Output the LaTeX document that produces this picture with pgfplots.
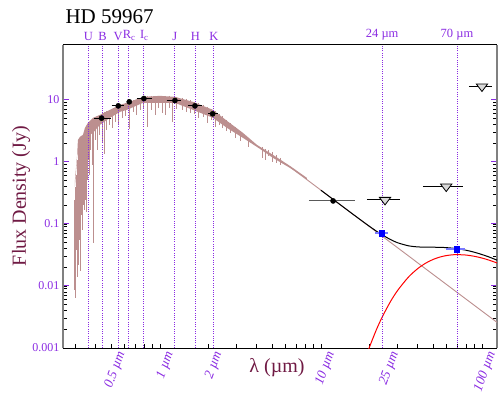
\documentclass[border=0pt]{standalone}
\usepackage{fontspec}
\setmainfont{Liberation Serif}
\usepackage{pgfplots}
\pgfplotsset{compat=1.18}
\definecolor{vio}{RGB}{138,43,226}
\definecolor{lbl}{RGB}{112,26,68}
\definecolor{rb}{RGB}{188,143,143}
\definecolor{lblue}{RGB}{120,120,255}
\begin{document}
\begin{tikzpicture}
\useasboundingbox (-63pt,-44pt) rectangle (437pt,348pt);
\begin{axis}[
  scale only axis, width=434pt, height=303.5pt,
  at={(0,0)}, anchor=south west,
  xmode=log, ymode=log,
  xmin=0.25, xmax=124, ymin=0.001, ymax=78,
  separate axis lines,
  x axis line style={black, line width=0.9pt},
  y axis line style={gray, line width=2pt},
  xtick pos=left,
  xtick={0.5,1,2,10,25,100},
  xticklabels={0.5 µm,1 µm,2 µm,10 µm,25 µm,100 µm},
  minor xtick={0.3,0.4,0.5,0.6,0.7,0.8,0.9,1,2,3,4,5,6,7,8,9,10,20,30,40,50,60,70,80,90,100},
  ytick={0.001,0.01,0.1,1,10},
  yticklabels={0.001,0.01,0.1,1,10},
  major tick length=6pt, minor tick length=4pt,
  every major x tick/.style={draw=none},
  every minor x tick/.style={black, line width=0.8pt},
  every major y tick/.style={vio, line width=1pt},
  every minor y tick/.style={black, line width=0.8pt},
  yticklabel style={text=vio, font=\fontsize{12}{12}\selectfont},
  xticklabel style={text=vio, font=\fontsize{13.5}{13.5}\selectfont\itshape, xshift=11.5pt, yshift=-1pt, rotate=70, anchor=east},
  clip mode=individual,
  unbounded coords=jump,
]
% model photosphere band
\addplot[fill=rb, draw=none] coordinates {
(0.2965,0.3953) (0.3051,1.077) (0.3095,2.264) (0.3185,2.530) (0.3325,2.726) (0.3421,3.534) (0.3571,4.256) (0.3836,5.124) (0.4238,5.729) (0.489,6.898) (0.5644,8.305) (0.6237,8.945) (0.6995,10.0) (0.7842,11.18) (1.0,11.60) (1.239,11.18) (1.603,9.284) (2.134,6.898) (2.607,4.584) (3.278,2.936) (4.005,1.880) (5.035,1.297) (6.42,0.862) (8.185,0.552)
(8.185,0.522) (6.42,0.800) (5.035,1.160) (4.18,1.621) (3.278,2.438) (2.607,3.534) (2.134,5.124) (1.603,6.898) (1.239,8.945) (1.0,8.945) (0.7842,8.945) (0.6237,6.898) (0.5644,6.404) (0.489,5.124) (0.4238,3.951) (0.3836,2.936) (0.3571,2.6) (0.3421,2.2) (0.3185,2.0) (0.3051,1.2) (0.2965,0.5)
} -- cycle;
% absorption lines
\addplot[rb, line width=0.75pt] coordinates {
(0.2922,0.2438)(0.2922,0.00862)(0.2922,nan)
(0.2965,0.3953)(0.2965,0.0064)(0.2965,nan)
(0.3008,0.617)(0.3008,0.0381)(0.3008,nan)
(0.3051,1.077)(0.3051,0.01397)(0.3051,nan)
(0.3095,2.264)(0.3095,0.0218)(0.3095,nan)
(0.314,2.438)(0.314,0.0552)(0.314,nan)
(0.3185,2.53)(0.3185,0.01745)(0.3185,nan)
(0.3231,2.3)(0.3231,0.1397)(0.3231,nan)
(0.3277,2.626)(0.3277,0.08)(0.3277,nan)
(0.3325,2.5)(0.3325,0.2025)(0.3325,nan)
(0.3373,3.047)(0.3373,0.1682)(0.3373,nan)
(0.3421,3.534)(0.3421,0.2438)(0.3421,nan)
(0.347,3.807)(0.347,0.1562)(0.347,nan)
(0.352,3.6)(0.352,0.5125)(0.352,nan)
(0.3571,4.256)(0.3571,1.077)(0.3571,nan)
(0.3622,4.416)(0.3622,0.617)(0.3622,nan)
(0.3675,4.3)(0.3675,1.562)(0.3675,nan)
(0.3781,4.937)(0.3781,0.8946)(0.3781,nan)
(0.3836,5.124)(0.3836,0.0494)(0.3836,nan)
(0.3947,5.318)(0.3947,2.264)(0.3947,nan)
(0.4061,5.52)(0.4061,1.562)(0.4061,nan)
(0.4179,5.729)(0.4179,2.726)(0.4179,nan)
(0.4363,6.17)(0.4363,2.025)(0.4363,nan)
(0.449,6.404)(0.449,1.346)(0.449,nan)
(0.462,6.646)(0.462,3.281)(0.462,nan)
(0.4822,6.898)(0.4822,3.951)(0.4822,nan)
(0.5033,7.159)(0.5033,3.534)(0.5033,nan)
(0.5254,7.711)(0.5254,4.416)(0.5254,nan)
(0.5484,8.002)(0.5484,3.951)(0.5484,nan)
(0.5807,8.619)(0.5807,5.124)(0.5807,nan)
(0.6062,8.945)(0.6062,5.52)(0.6062,nan)
(0.6418,9.284)(0.6418,3.405)(0.6418,nan)
(0.6796,10.0)(0.6796,6.404)(0.6796,nan)
(0.7095,10.0)(0.7095,5.729)(0.7095,nan)
(0.7512,10.77)(0.7512,6.898)(0.7512,nan)
(0.7842,11.18)(0.7842,7.43)(0.7842,nan)
(0.8303,11.6)(0.8303,3.668)(0.8303,nan)
(0.8791,11.6)(0.8791,6.898)(0.8791,nan)
(0.9309,11.6)(0.9309,5.729)(0.9309,nan)
(0.9718,11.6)(0.9718,7.43)(0.9718,nan)
(1.029,11.6)(1.029,6.17)(1.029,nan)
(1.074,11.6)(1.074,5.729)(1.074,nan)
(1.137,11.6)(1.137,7.43)(1.137,nan)
(1.187,11.18)(1.187,4.416)(1.187,nan)
(1.257,11.18)(1.257,7.159)(1.257,nan)
(1.37,10.77)(1.37,6.898)(1.37,nan)
(1.451,10.38)(1.451,6.404)(1.451,nan)
(1.536,10.0)(1.536,6.17)(1.536,nan)
(1.626,9.284)(1.626,5.945)(1.626,nan)
(1.722,8.945)(1.722,5.124)(1.722,nan)
(1.849,8.305)(1.849,5.318)(1.849,nan)
(1.959,7.711)(1.959,4.256)(1.959,nan)
(2.074,7.159)(2.074,4.757)(2.074,nan)
(2.196,6.646)(2.196,3.668)(2.196,nan)
(2.325,5.945)(2.325,3.951)(2.325,nan)
(2.427,5.52)(2.427,3.534)(2.427,nan)
(2.57,4.757)(2.57,3.162)(2.57,nan)
(2.721,4.256)(2.721,2.936)(2.721,nan)
(2.924,3.668)(2.924,2.438)(2.924,nan)
(3.14,3.162)(3.14,2.182)(3.14,nan)
(3.521,2.438)(3.521,1.746)(3.521,nan)
(4.3,1.746)(4.3,1.16)(4.3,nan)
(4.489,1.621)(4.489,1.077)(4.489,nan)
(4.687,1.562)(4.687,1.25)(4.687,nan)
(4.963,1.45)(4.963,1.0)(4.963,nan)
(5.255,1.297)(5.255,0.9636)(5.255,nan)
(5.564,1.16)(5.564,0.8946)
};
% photosphere Rayleigh-Jeans tail
\addplot[rb, line width=0.9pt] coordinates {
(6.42,0.831)(8,0.540)(10,0.3495)(12,0.2449)(14,0.1815)(16,0.1399)(18,0.1112)(20,0.0906)(22,0.0752)(24,0.0635)(27,0.0505)(30,0.0411)(35,0.03045)(40,0.02347)(45,0.01866)(50,0.0152)(55,0.01263)(60,0.01065)(65,0.00912)(70,0.00789)(80,0.00608)(90,0.00484)(100,0.00394)(110,0.00327)(124,0.00259)
};
% dust blackbody
\addplot[red, line width=1pt, smooth] coordinates {
(18,0.000465)(19,0.00071)(20,0.00103)(22,0.00192)(24,0.00315)(27,0.00558)(30,0.00853)(35,0.01395)(40,0.01913)(45,0.02354)(50,0.02693)(55,0.02933)(60,0.03088)(65,0.03172)(70,0.0320)(80,0.03148)(90,0.03003)(100,0.02819)(110,0.02621)(124,0.0235)
};
% total model
\addplot[black, line width=1pt, smooth] coordinates {
(10,0.3495)(12,0.2449)(14,0.1815)(16,0.1400)(18,0.1117)(20,0.0916)(22,0.0771)(24,0.0667)(27,0.0561)(30,0.0496)(35,0.0444)(40,0.0426)(45,0.0422)(50,0.0421)(55,0.0420)(60,0.0415)(65,0.0408)(70,0.0399)(80,0.0376)(90,0.0349)(100,0.0321)(110,0.0295)(124,0.0261)
};
% band lines
\addplot[vio, line width=0.7pt, dash pattern=on 1pt off 1.3pt] coordinates {
(0.36,0.001)(0.36,78)(0.36,nan)
(0.44,0.001)(0.44,78)(0.44,nan)
(0.55,0.001)(0.55,78)(0.55,nan)
(0.64,0.001)(0.64,78)(0.64,nan)
(0.79,0.001)(0.79,78)(0.79,nan)
(1.235,0.001)(1.235,78)(1.235,nan)
(1.66,0.001)(1.66,78)(1.66,nan)
(2.16,0.001)(2.16,78)(2.16,nan)
(24,0.001)(24,78)(24,nan)
(70,0.001)(70,78)
};
% error bars
\addplot[black, line width=1pt] coordinates {
(0.39,5.07)(0.494,5.07)(0.39,nan)
(0.5015,8.0)(0.60,8.0)(0.6,nan)
(0.717,10.5)(0.888,10.5)(0.8,nan)
(1.10,9.75)(1.345,9.75)(1.2,nan)
(1.50,8.0)(1.815,8.0)(1.6,nan)
(1.99,5.95)(2.29,5.95)(2.1,nan)
(19.3,0.244)(31,0.244)(25,nan)
(43,0.40)(76,0.40)(60,nan)
(83,16.4)(116,16.4)
};
\addplot[black!65, line width=1pt] coordinates {(8.4,0.235)(16.3,0.235)};
\addplot[lblue, line width=1.5pt] coordinates {(21.7,0.0708)(26,0.0708)(24,nan)(60,0.0391)(78,0.0391)};
% photometry
\addplot[only marks, mark=*, mark size=2.6pt, black] coordinates {
(0.434,5.07)(0.551,8.0)(0.645,9.29)(0.795,10.5)(1.239,9.75)(1.65,8.0)(2.125,5.95)(11.9,0.235)
};
\addplot[only marks, mark=square*, mark size=2.8pt, blue] coordinates {(23.9,0.0708)(69.8,0.0391)};
\addplot[only marks, mark=triangle*, mark size=5pt, mark options={rotate=180, xscale=1.3, draw=black, fill=black!15, line width=0.8pt}] coordinates {(25,0.244)(60,0.40)(100,16.4)};
% band labels
\begin{scope}[every node/.style={anchor=south, text=vio, font=\fontsize{12.5}{14}\selectfont, inner sep=0pt, yshift=4pt}]
\node at (axis cs:0.36,78) {U};
\node at (axis cs:0.44,78) {B};
\node at (axis cs:0.55,78) {V};
\node at (axis cs:0.645,78) {R$_{\mathrm{c}}$};
\node at (axis cs:0.80,78) {I$_{\mathrm{c}}$};
\node at (axis cs:1.235,78) {J};
\node at (axis cs:1.66,78) {H};
\node at (axis cs:2.16,78) {K};
\node at (axis cs:24,78) {24 µm};
\node at (axis cs:70,78) {70 µm};
\end{scope}
\end{axis}
\node[anchor=base west, font=\fontsize{21}{25}\selectfont] at (-1pt,325pt) {HD 59967};
\node[rotate=90, text=lbl, font=\fontsize{20}{24}\selectfont] at (-42pt,152pt) {Flux Density (Jy)};
\node[text=lbl, font=\fontsize{20}{24}\selectfont] at (214pt,-20pt) {λ (µm)};
\end{tikzpicture}
\end{document}
